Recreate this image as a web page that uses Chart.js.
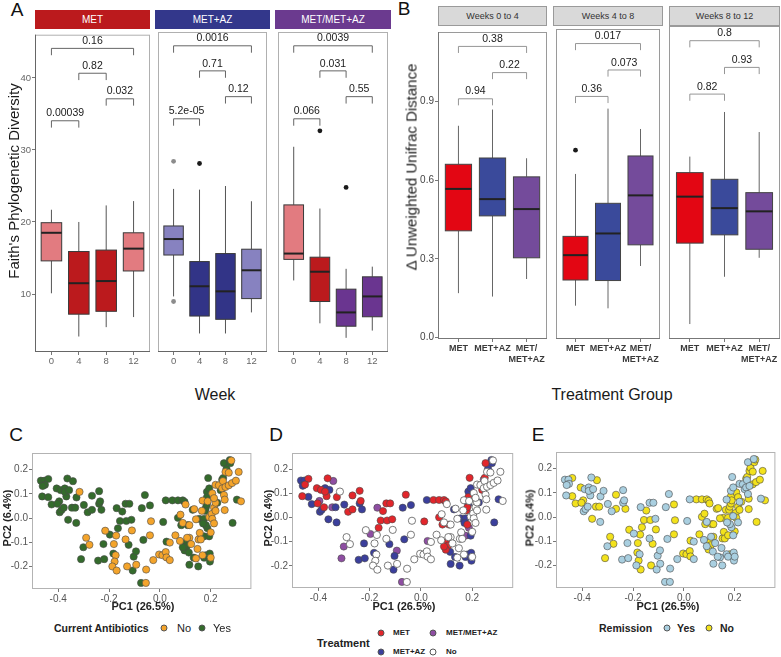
<!DOCTYPE html>
<html>
<head>
<meta charset="utf-8">
<script src="https://cdn.jsdelivr.net/npm/chart.js@4.4.1/dist/chart.umd.min.js"></script>
<style>
body{margin:0;background:#fff;font-family:"Liberation Sans",Arial,sans-serif}
#fig{position:relative;width:781px;height:657px;overflow:hidden;background:#fff}
canvas{position:absolute}
.t{position:absolute;white-space:nowrap;line-height:1}
.strip{position:absolute;display:flex;align-items:center;justify-content:center;box-sizing:border-box}
.dot{position:absolute;width:7px;height:7px;border-radius:50%;box-sizing:border-box;border:0.5px solid #555;transform:translate(-50%,-50%)}
</style>
</head>
<body>
<div id="fig"></div>
<script>
// ---- panel A : Faith's PD, box stats [min, q1, median, q3, max] per week
var weeks = [0, 4, 8, 12];
var faithGroups = ['MET', 'MET+AZ', 'MET/MET+AZ'];
var faithMET   = [[10.1,14.6,18.5,19.9,21.7],[4.1,7.2,11.5,15.9,20.0],[5.4,7.6,11.8,16.1,22.3],[6.8,13.2,16.3,18.5,22.9]];
var faithMETAZ = [[9.6,15.3,17.5,19.3,24.4],[4.5,6.9,11.0,14.4,24.3],[4.5,6.45,10.3,15.5,24.8],[7.4,9.3,13.2,16.1,22.7]];
var faithSeq   = [[11.8,14.7,15.5,22.2,30.2],[5.9,8.9,13.0,15.0,21.7],[3.9,5.5,7.4,10.6,13.4],[4.9,6.8,9.6,12.3,13.7]];
var faithOutMET   = [[],[],[],[]];
var faithOutMETAZ = [[28.2,8.9],[27.9],[],[]];
var faithOutSeq   = [[],[32.4],[24.6],[]];
var faithPairs = [[0,12],[4,8],[8,12],[0,4]];
var faithPairLevel = [44.1, 40.65, 37.1, 34.05];
var faithP = [['0.16','0.82','0.032','0.00039'],['0.0016','0.71','0.12','5.2e-05'],['0.0039','0.031','0.55','0.066']];

// ---- panel B : change in unweighted UniFrac
var groupsB = ['MET', 'MET+AZ', 'MET/MET+AZ'];
var groupTicksB = ['MET', 'MET+AZ', ['MET/', 'MET+AZ']];
var windowsB = ['Weeks 0 to 4', 'Weeks 4 to 8', 'Weeks 8 to 12'];
var unifrac04  = [[0.169,0.407,0.567,0.661,0.808],[0.156,0.464,0.528,0.685,0.870],[0.223,0.304,0.490,0.613,0.684]];
var unifrac48  = [[0.120,0.217,0.311,0.382,0.618],[0.110,0.215,0.393,0.507,0.865],[0.270,0.350,0.537,0.686,0.788]];
var unifrac812 = [[0.050,0.353,0.527,0.617,0.677],[0.227,0.384,0.484,0.592,0.844],[0.298,0.330,0.472,0.542,0.769]];
var unifracOut = [[[],[],[]],[[0.708],[],[]],[[],[],[]]];
var pairsB = [[0,2],[1,2],[0,1]];
var pairLevelB = [1.111, 1.011, 0.911];
var pB = [['0.38','0.22','0.94'],['0.017','0.073','0.36'],['0.8','0.93','0.82']];

// ---- panels C-E : PCoA of unweighted UniFrac (same samples, three colourings)
var pc1 = [-0.468,-0.454,-0.439,-0.452,-0.461,-0.463,-0.439,-0.426,-0.406,-0.390,
 -0.396,-0.403,-0.394,-0.387,-0.378,-0.374,-0.368,-0.374,-0.364,-0.357,
 -0.342,-0.346,-0.333,-0.361,-0.329,-0.328,-0.316,-0.299,-0.284,-0.267,
 -0.267,-0.239,-0.239,-0.235,-0.230,-0.290,-0.277,-0.301,-0.310,-0.243,
 -0.219,-0.222,-0.215,-0.197,-0.181,-0.183,-0.174,-0.178,-0.187,-0.170,
 -0.172,-0.170,-0.165,-0.157,-0.148,-0.135,-0.120,-0.132,-0.135,-0.123,
 -0.112,-0.110,-0.129,-0.107,-0.103,-0.094,-0.093,-0.071,-0.065,-0.059,
 -0.054,-0.039,-0.039,-0.035,-0.074,-0.055,-0.026,-0.003,0.010,0.023,
 0.026,0.039,0.039,0.013,0.023,0.026,0.049,0.061,0.071,0.081,
 0.071,0.090,0.097,0.101,0.084,0.090,0.079,0.110,0.116,0.101,
 0.106,0.097,0.090,0.116,0.107,0.116,0.123,0.129,0.135,0.114,
 0.142,0.133,0.151,0.148,0.152,0.155,0.157,0.165,0.168,0.174,
 0.168,0.174,0.181,0.161,0.174,0.187,0.181,0.170,0.178,0.181,
 0.185,0.185,0.185,0.188,0.190,0.194,0.194,0.194,0.196,0.197,
 0.200,0.204,0.206,0.206,0.213,0.213,0.219,0.226,0.219,0.232,
 0.239,0.245,0.245,0.249,0.248,0.252,0.255,0.252,0.258,0.262,
 0.271,0.275,0.277,0.281,0.258,0.271,0.284,0.299,0.310,0.303,
 0.319,0.286,0.255,0.219,0.213,0.200,0.142];
var pc2 = [0.154,0.154,0.161,0.137,0.132,0.089,0.086,0.056,0.122,0.115,
 0.069,0.059,0.024,0.033,0.043,0.122,0.089,0.108,0.163,0.115,
 0.152,0.043,0.043,-0.007,-0.020,0.085,0.108,0.054,0.024,0.034,
 0.092,0.111,0.059,0.069,0.034,-0.081,-0.110,-0.120,-0.169,-0.175,
 -0.169,-0.107,-0.052,-0.068,-0.107,-0.146,-0.153,-0.179,-0.199,-0.216,
 -0.072,0.041,-0.042,-0.012,0.027,0.059,0.059,-0.012,-0.088,-0.110,
 -0.007,-0.051,-0.199,-0.216,-0.159,-0.137,-0.192,0.041,-0.090,0.095,
 -0.212,-0.071,0.052,-0.013,-0.267,-0.267,-0.173,-0.150,-0.153,-0.140,
 -0.162,-0.173,-0.101,-0.016,0.073,-0.097,0.073,-0.071,0.001,0.014,
 0.073,0.073,0.067,0.056,-0.029,-0.020,-0.094,-0.029,-0.029,-0.101,
 -0.116,-0.133,-0.120,-0.081,-0.081,-0.192,-0.107,0.034,0.037,-0.142,
 -0.166,-0.163,-0.199,-0.127,-0.088,-0.003,-0.061,0.030,0.072,-0.003,
 -0.153,-0.163,-0.153,-0.088,-0.075,-0.042,-0.029,-0.022,0.030,0.043,
 0.056,0.108,0.085,0.069,0.165,0.122,0.004,-0.075,-0.146,-0.179,
 -0.163,0.017,-0.003,0.102,0.043,-0.022,0.063,0.063,0.137,0.135,
 0.115,0.122,0.158,0.165,0.152,0.095,0.076,0.226,0.190,0.203,
 0.187,0.239,0.226,0.237,0.128,0.135,0.144,0.154,0.190,0.076,
 0.069,-0.020,0.033,0.030,0.082,-0.059,-0.005];
// treatment: R = MET, B = MET+AZ, P = MET/MET+AZ, N = No
var treatment = ('B B R R B R B B R R P R B B R B R R R B P P B B B R N B R R ' +
 'R R B R B N N P P B B B N P N B N N N N N P R R R R R R N B ' +
 'R N N B B P N B B R N N B N P N N N N N N N N R B P R N R N ' +
 'R R R N R N N R N R R R R N N B N B N B N B B N N B N N N B ' +
 'N B B N P P R B R R B B R N R B N B B B N N N N N N N B N N ' +
 'R N P R N N N R N B N B B N N N N N N B N B N N N N N').split(' ');
// remission: Y = Yes, N = No
var remission = ('Y Y N Y Y Y N N N Y N N Y Y Y Y Y Y Y Y N N N N Y Y Y Y Y N ' +
 'N Y Y Y N N N Y N Y Y Y N Y N N Y N Y N N Y N N N Y Y N Y N ' +
 'Y N N Y Y Y Y Y Y Y Y N N N Y Y Y N N N N Y Y Y Y N N N N N ' +
 'N N N N N Y Y N N N N N Y N Y Y Y N N Y Y Y Y Y N N N N Y N ' +
 'Y Y N N N Y Y Y N N N Y N N Y Y Y Y Y Y Y N N N N Y Y N Y Y ' +
 'Y Y N N Y Y N Y N N N Y N N Y N N N N Y N N N N N N N').split(' ');
// samples without treatment are the ones not currently on antibiotics
var antibiotics = treatment.map(function (t) { return t === 'N' ? 'No' : 'Yes'; });

Chart.defaults.font.family = '"Liberation Sans", Arial, sans-serif';
Chart.defaults.animation = false;
Chart.defaults.plugins.legend.display = false;
Chart.defaults.plugins.tooltip.enabled = false;

var fig = document.getElementById('fig');

function addCanvas(plot, pad) {
  var c = document.createElement('canvas');
  var w = plot.r - plot.l + pad.l + pad.r, h = plot.b - plot.t + pad.t + pad.b;
  c.width = w; c.height = h;
  c.style.left = (plot.l - pad.l) + 'px';
  c.style.top = (plot.t - pad.t) + 'px';
  c.style.width = w + 'px'; c.style.height = h + 'px';
  fig.appendChild(c);
  return c;
}

function axis(o) {
  return {
    type: 'linear', position: o.pos, min: o.min, max: o.max, display: o.show !== false,
    afterBuildTicks: function (s) { s.ticks = o.ticks.map(function (v) { return {value: v}; }); },
    afterFit: function (s) { if (o.pos === 'left') s.width = o.size; else s.height = o.size; },
    grid: {display: true, drawOnChartArea: false, drawTicks: true, tickLength: 3, color: o.tickColor || '#777'},
    border: {display: false},
    ticks: {padding: o.labelPad, color: o.color, font: o.font, callback: o.fmt, maxRotation: 0, autoSkip: false}
  };
}

var framePlugin = {
  id: 'frame',
  afterDraw: function (chart, args, o) {
    var a = chart.chartArea, ctx = chart.ctx;
    ctx.save();
    ctx.strokeStyle = o.color; ctx.lineWidth = 1;
    ctx.strokeRect(a.left + 0.5, a.top + 0.5, a.right - a.left - 1, a.bottom - a.top - 1);
    if (o.axisColor) {
      ctx.strokeStyle = o.axisColor;
      ctx.beginPath();
      ctx.moveTo(a.left, a.bottom - 0.5); ctx.lineTo(a.right, a.bottom - 0.5);
      if (o.leftAxis) { ctx.moveTo(a.left + 0.5, a.top); ctx.lineTo(a.left + 0.5, a.bottom); }
      ctx.stroke();
    }
    ctx.restore();
  }
};

var boxPlugin = {
  id: 'boxes',
  afterDatasetsDraw: function (chart, args, o) {
    if (!o.stats) return;
    var ctx = chart.ctx, x = chart.scales.x, y = chart.scales.y;
    ctx.save();
    o.stats.forEach(function (s, i) {
      var c = o.xs[i];
      var x0 = x.getPixelForValue(c - o.half), x1 = x.getPixelForValue(c + o.half), xm = x.getPixelForValue(c);
      var p = s.map(function (v) { return y.getPixelForValue(v); });
      ctx.strokeStyle = o.whisker; ctx.lineWidth = 1;
      ctx.beginPath();
      ctx.moveTo(xm, p[4]); ctx.lineTo(xm, p[3]);
      ctx.moveTo(xm, p[1]); ctx.lineTo(xm, p[0]);
      ctx.stroke();
      ctx.fillStyle = o.fills[i];
      ctx.fillRect(x0, p[3], x1 - x0, p[1] - p[3]);
      ctx.strokeStyle = o.edge; ctx.lineWidth = 1;
      ctx.strokeRect(x0, p[3], x1 - x0, p[1] - p[3]);
      ctx.strokeStyle = '#222'; ctx.lineWidth = 2;
      ctx.beginPath(); ctx.moveTo(x0, p[2]); ctx.lineTo(x1, p[2]); ctx.stroke();
    });
    ctx.strokeStyle = o.bracket; ctx.lineWidth = 0.9;
    ctx.fillStyle = '#1a1a1a';
    ctx.font = '10.5px "Liberation Sans", Arial, sans-serif';
    ctx.textAlign = 'center'; ctx.textBaseline = 'bottom';
    o.pairs.forEach(function (pr, k) {
      var xa = x.getPixelForValue(pr[0]), xb = x.getPixelForValue(pr[1]);
      var yy = y.getPixelForValue(o.levels[k]), yt = y.getPixelForValue(o.levels[k] - o.tick);
      ctx.beginPath();
      ctx.moveTo(xa, yt); ctx.lineTo(xa, yy); ctx.lineTo(xb, yy); ctx.lineTo(xb, yt);
      ctx.stroke();
      ctx.fillText(o.labels[k], (xa + xb) / 2, yy - 2);
    });
    ctx.restore();
  }
};

function text(str, x, y, css, mode) {
  var d = document.createElement('div');
  d.className = 't'; d.textContent = str;
  d.style.cssText += css;
  d.style.left = x + 'px'; d.style.top = y + 'px';
  var tr = mode === 'left' ? 'translate(0,-50%)' : 'translate(-50%,-50%)';
  if (mode === 'rot') tr += ' rotate(-90deg)';
  d.style.transform = tr;
  fig.appendChild(d);
}
function strip(str, l, r, t, h, css) {
  var d = document.createElement('div');
  d.className = 'strip'; d.textContent = str;
  d.style.cssText += 'left:' + l + 'px;top:' + t + 'px;width:' + (r - l) + 'px;height:' + h + 'px;' + css;
  fig.appendChild(d);
}
function dot(x, y, color) {
  var d = document.createElement('div');
  d.className = 'dot';
  d.style.left = x + 'px'; d.style.top = y + 'px'; d.style.background = color;
  fig.appendChild(d);
}

// ---------- panel A
var lightRed = '#e27b80', darkRed = '#bb1a1d', lightBlue = '#8782c0', darkBlue = '#323487', purple = '#6a3590';
var faithStats = [faithMET, faithMETAZ, faithSeq];
var faithOut = [faithOutMET, faithOutMETAZ, faithOutSeq];
var faithFills = [[lightRed, darkRed, darkRed, lightRed], [lightBlue, darkBlue, darkBlue, lightBlue], [lightRed, darkRed, purple, purple]];
var faithOutCol = [['#8c8c8c', '#1a1a1a', '#1a1a1a', '#8c8c8c'], ['#8c8c8c', '#1a1a1a', '#1a1a1a', '#8c8c8c'], ['#8c8c8c', '#1a1a1a', '#1a1a1a', '#1a1a1a']];
var stripColA = [darkRed, '#33378b', '#6b3a8f'];
var faithL = [35, 155, 275], faithR = [150, 270, 391];

faithGroups.forEach(function (g, k) {
  var plot = {l: faithL[k], r: faithR[k], t: 29, b: 352};
  var pad = {l: k === 0 ? 20 : 1, r: 1, t: 1, b: 16};
  var pts = [], cols = [];
  weeks.forEach(function (w, i) {
    faithOut[k][i].forEach(function (v) { pts.push({x: w, y: v}); cols.push(faithOutCol[k][i]); });
  });
  new Chart(addCanvas(plot, pad), {
    type: 'scatter',
    data: {datasets: [{data: pts, pointRadius: 2.4, pointBackgroundColor: cols, pointBorderWidth: 0}]},
    options: {
      responsive: false, devicePixelRatio: 1,
      layout: {padding: {left: k === 0 ? 0 : 1, right: 1, top: 1, bottom: 0}},
      scales: {
        x: axis({pos: 'bottom', min: -2.4, max: 14.4, ticks: weeks, size: 16, labelPad: 1, color: '#666',
          font: {size: 9.5}, fmt: function (v) { return String(v); }}),
        y: axis({pos: 'left', show: k === 0, min: 1.95, max: 46, ticks: [10, 20, 30, 40], size: k === 0 ? 20 : 0,
          labelPad: 1, color: '#666', font: {size: 9.5}, fmt: function (v) { return String(v); }})
      },
      plugins: {
        frame: {color: '#b0b0b0', axisColor: '#666', leftAxis: k === 0},
        boxes: {stats: faithStats[k], xs: weeks, half: 1.5, fills: faithFills[k], whisker: '#555', edge: '#3a3a3a',
          bracket: '#555', pairs: faithPairs, levels: faithPairLevel, tick: 0.95, labels: faithP[k]}
      }
    },
    plugins: [framePlugin, boxPlugin]
  });
  strip(g, faithL[k], faithR[k], 10, 19, 'background:' + stripColA[k] + ';color:#fff;font-size:10px;');
});

// ---------- panel B
var fillsB = ['#e30613', '#3a4a9b', '#744b9b'];
var unifracStats = [unifrac04, unifrac48, unifrac812];
var bL = [438, 553, 669], bR = [547, 663, 780];
windowsB.forEach(function (wname, k) {
  var plot = {l: bL[k], r: bR[k], t: 26, b: 339};
  var pad = {l: k === 0 ? 24 : 1, r: 1, t: 1, b: 28};
  var pts = [];
  groupsB.forEach(function (g, i) {
    unifracOut[k][i].forEach(function (v) { pts.push({x: i, y: v}); });
  });
  new Chart(addCanvas(plot, pad), {
    type: 'scatter',
    data: {datasets: [{data: pts, pointRadius: 2.4, pointBackgroundColor: '#1a1a1a', pointBorderWidth: 0}]},
    options: {
      responsive: false, devicePixelRatio: 1,
      layout: {padding: {left: k === 0 ? 0 : 1, right: 1, top: 1, bottom: 0}},
      scales: {
        x: axis({pos: 'bottom', min: -0.6, max: 2.6, ticks: [0, 1, 2], size: 28, labelPad: 1, color: '#3a3a3a',
          font: {size: 9, weight: 'bold', lineHeight: 1.2}, fmt: function (v) { return groupTicksB[v]; }}),
        y: axis({pos: 'left', show: k === 0, min: -0.006, max: 1.166, ticks: [0, 0.3, 0.6, 0.9], size: k === 0 ? 24 : 0,
          labelPad: 1, color: '#444', font: {size: 10}, fmt: function (v) { return v.toFixed(1); }})
      },
      plugins: {
        frame: {color: '#9a9a9a', axisColor: '#777', leftAxis: k === 0},
        boxes: {stats: unifracStats[k], xs: [0, 1, 2], half: 0.385, fills: fillsB, whisker: '#666', edge: '#444',
          bracket: '#8a8a8a', pairs: pairsB, levels: pairLevelB, tick: 0.025, labels: pB[k]}
      }
    },
    plugins: [framePlugin, boxPlugin]
  });
  strip(wname, bL[k], bR[k], 6, 20, 'background:#d9d9d9;border:1px solid #9a9a9a;color:#333;font-size:9px;');
});

// ---------- panels C, D, E
function pcaChart(plot, cats, codes, styles) {
  var pad = {l: 22, r: 1, t: 1, b: 16};
  var sets = codes.map(function (code) {
    var pts = [];
    cats.forEach(function (c, i) { if (c === code) pts.push({x: pc1[i], y: pc2[i]}); });
    var st = styles[code];
    return {data: pts, pointRadius: 3.6, pointBackgroundColor: st.fill, pointBorderColor: st.edge, pointBorderWidth: st.bw};
  });
  new Chart(addCanvas(plot, pad), {
    type: 'scatter',
    data: {datasets: sets},
    options: {
      responsive: false, devicePixelRatio: 1,
      layout: {padding: {left: 0, right: 1, top: 1, bottom: 0}},
      scales: {
        x: axis({pos: 'bottom', min: -0.503, max: 0.36, ticks: [-0.4, -0.2, 0, 0.2], size: 16, labelPad: 1,
          color: '#555', font: {size: 10}, fmt: function (v) { return v.toFixed(1); }}),
        y: axis({pos: 'left', min: -0.292, max: 0.268, ticks: [-0.2, -0.1, 0, 0.1, 0.2], size: 22, labelPad: 1,
          color: '#555', font: {size: 10}, fmt: function (v) { return v.toFixed(1); }})
      },
      plugins: {frame: {color: '#b3b3b3'}}
    },
    plugins: [framePlugin]
  });
}
var edge = '#4a4a4a';
pcaChart({l: 32, t: 447, r: 255, b: 589}, antibiotics, ['No', 'Yes'], {
  No: {fill: '#f4a42b', edge: edge, bw: 0.6}, Yes: {fill: '#346b2c', edge: edge, bw: 0.6}});
pcaChart({l: 292, t: 447, r: 517, b: 588}, treatment, ['N', 'R', 'B', 'P'], {
  N: {fill: '#ffffff', edge: '#5a5a5a', bw: 0.8}, R: {fill: '#e2262b', edge: edge, bw: 0.6},
  B: {fill: '#3b3f9c', edge: edge, bw: 0.6}, P: {fill: '#8e4ea2', edge: edge, bw: 0.6}});
pcaChart({l: 556, t: 446, r: 779, b: 588}, remission, ['Y', 'N'], {
  Y: {fill: '#a9cfe0', edge: edge, bw: 0.6}, N: {fill: '#f3e21c', edge: edge, bw: 0.6}});

// ---------- titles, axis labels, legends
var big = 'font-size:19px;color:#111;';
text('A', 17, 9, big); text('B', 404, 8, big);
text('C', 16, 434, big); text('D', 276, 434, big); text('E', 538, 434, big);
text("Faith's Phylogenetic Diversity", 13, 181, 'font-size:15px;color:#1a1a1a;', 'rot');
text('\u0394 Unweighted Unifrac Distance', 411, 167, 'font-size:15px;color:#1a1a1a;', 'rot');
text('Week', 215, 395, 'font-size:16px;color:#1a1a1a;');
text('Treatment Group', 612, 395, 'font-size:16px;color:#1a1a1a;');
var pcT = 'font-size:11px;font-weight:bold;color:#222;';
text('PC1 (26.5%)', 143, 606, pcT); text('PC1 (26.5%)', 404, 606, pcT); text('PC1 (26.5%)', 668, 606, pcT);
text('PC2 (6.4%)', 7, 518, pcT, 'rot'); text('PC2 (6.4%)', 268, 518, pcT, 'rot'); text('PC2 (6.4%)', 530, 518, pcT, 'rot');

var lg = 'font-size:11px;color:#222;';
text('Current Antibiotics', 54, 628, 'font-size:10.5px;font-weight:bold;color:#222;', 'left');
dot(164, 628, '#f4a42b'); text('No', 177, 628, lg, 'left');
dot(202, 628, '#346b2c'); text('Yes', 213, 628, lg, 'left');

text('Treatment', 317, 643, 'font-size:11px;font-weight:bold;color:#222;', 'left');
var lgs = 'font-size:8px;font-weight:bold;color:#222;';
dot(381, 633, '#e2262b'); text('MET', 393, 633, lgs, 'left');
dot(433, 633, '#8e4ea2'); text('MET/MET+AZ', 446, 633, lgs, 'left');
dot(381, 652, '#3b3f9c'); text('MET+AZ', 393, 652, lgs, 'left');
dot(433, 652, '#ffffff'); text('No', 446, 652, lgs, 'left');

text('Remission', 599, 628, 'font-size:10.5px;font-weight:bold;color:#222;', 'left');
dot(667, 628, '#a9cfe0'); text('Yes', 677, 628, 'font-size:10.5px;font-weight:bold;color:#222;', 'left');
dot(709, 628, '#f3e21c'); text('No', 720, 628, 'font-size:10.5px;font-weight:bold;color:#222;', 'left');
</script>
</body>
</html>
